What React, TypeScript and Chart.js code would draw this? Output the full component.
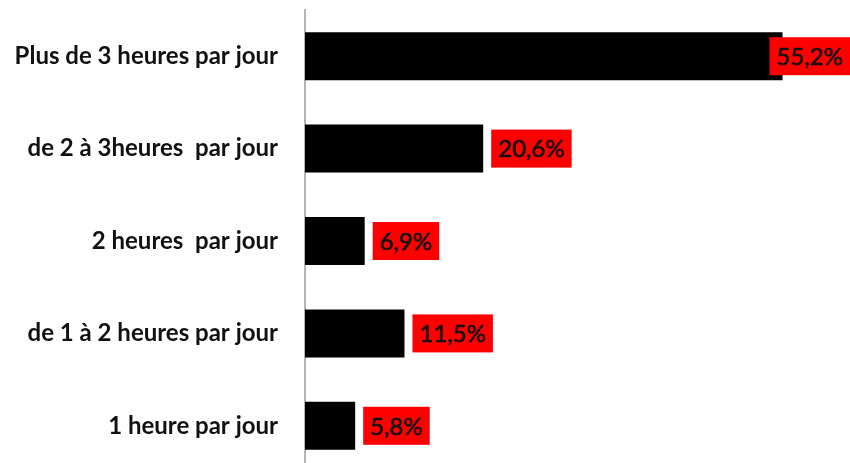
import React, { useEffect, useRef } from "react";
import { Chart, registerables } from "chart.js";

Chart.register(...registerables);

const categories = [
  "Plus de 3 heures par jour",
  "de 2 à 3heures  par jour",
  "2 heures  par jour",
  "de 1 à 2 heures par jour",
  "1 heure par jour",
];
const values = [55.2, 20.6, 6.9, 11.5, 5.8];
const valueLabels = ["55,2%", "20,6%", "6,9%", "11,5%", "5,8%"];

const W = 850;
const H = 480;
const AXIS_X = 305;

const labelPlugin = {
  id: "redLabels",
  afterDatasetsDraw(chart: any) {
    const ctx = chart.ctx;
    const meta = chart.getDatasetMeta(0);
    ctx.save();
    ctx.font = "24px Lato";
    ctx.textBaseline = "middle";
    ctx.textAlign = "left";
    meta.data.forEach((bar: any, i: number) => {
      const txt = valueLabels[i];
      const tw = ctx.measureText(txt).width;
      const pad = 7;
      const bw = tw + pad * 2;
      const bh = 38;
      let left = bar.x + 8;
      if (left + bw > chart.width) left = chart.width - bw;
      const top = bar.y - bh / 2;
      ctx.fillStyle = "#ff0000";
      ctx.fillRect(left, top, bw, bh);
      ctx.fillStyle = "#111111";
      ctx.strokeStyle = "#111111";
      ctx.lineWidth = 0.6;
      ctx.fillText(txt, left + pad, bar.y + 1);
      ctx.strokeText(txt, left + pad, bar.y + 1);
    });
    ctx.restore();
  },
};

export default function App() {
  const ref = useRef<HTMLCanvasElement>(null);
  useEffect(() => {
    const canvas = ref.current!;
    const chart = new Chart(canvas, {
      type: "bar",
      data: {
        labels: categories,
        datasets: [
          {
            data: values,
            backgroundColor: "#000000",
            borderWidth: 0,
            barPercentage: 0.52,
            categoryPercentage: 1,
          },
        ],
      },
      options: {
        indexAxis: "y",
        responsive: false,
        animation: false,
        devicePixelRatio: 1,
        layout: { padding: { top: 10, bottom: 8, left: 0, right: 0 } },
        plugins: { legend: { display: false }, tooltip: { enabled: false } },
        scales: {
          x: { display: false, min: 0, max: 63 },
          y: {
            grid: { display: false, drawTicks: false },
            border: { display: true, color: "#b5b5b5", width: 2 },
            ticks: {
              color: "#111111",
              padding: 27,
              font: { family: "Lato", size: 24, weight: "bold" },
            },
            afterFit(scale: any) {
              scale.width = AXIS_X;
              scale.paddingTop = 0;
              scale.paddingBottom = 0;
            },
          },
        },
      },
      plugins: [labelPlugin],
    } as any);
    return () => chart.destroy();
  }, []);
  return (
    <div style={{ position: "absolute", left: 0, top: 0, width: W, height: H }}>
      <canvas ref={ref} width={W} height={H} />
    </div>
  );
}
